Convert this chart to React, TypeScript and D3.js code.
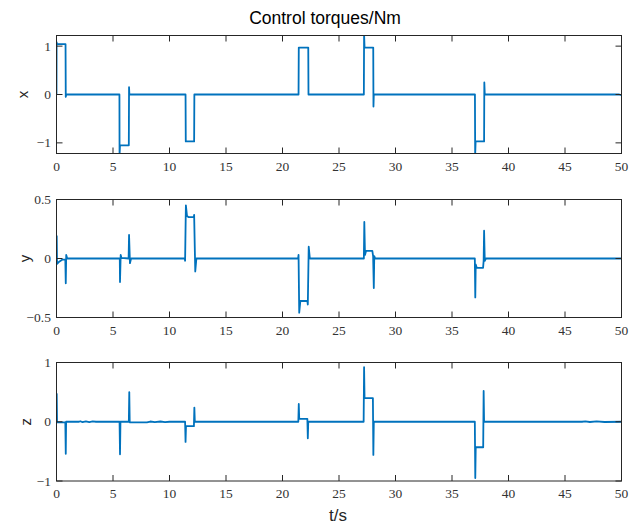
import React from 'react';
import * as d3 from 'd3';

// x-axis torque, breakpoints
const xTime = [0, 0.01, 0.05, 0.8, 0.82, 0.86, 5.57, 5.58, 5.62, 6.4, 6.42, 6.45, 11.42, 11.44, 12.18, 12.2, 21.42, 21.44, 22.28, 22.3, 27.2, 27.22, 27.26, 28.03, 28.05, 28.08, 37.03, 37.05, 37.09, 37.84, 37.86, 37.9, 49.8, 49.9, 50];
const xTorque = [0, 1.08, 1.04, 1.04, -0.05, 0, 0, -1.25, -1.05, -1.05, 0.15, 0, 0, -0.97, -0.97, 0, 0, 0.97, 0.97, 0, 0, 1.25, 0.97, 0.97, -0.25, 0, 0, -1.25, -0.97, -0.97, 0.25, 0, 0, -0.01, 0];

const yTime = [0, 0.02, 0.05, 0.2, 0.5, 0.78, 0.82, 0.86, 0.95, 5.6, 5.62, 5.68, 5.75, 6.38, 6.42, 6.5, 6.6, 11.35, 11.38, 11.45, 11.55, 11.7, 12.15, 12.18, 12.28, 12.38, 21.38, 21.42, 21.48, 21.58, 22.2, 22.24, 22.32, 22.42, 27.2, 27.24, 27.3, 27.4, 27.95, 28.02, 28.08, 28.12, 28.2, 37.02, 37.06, 37.1, 37.2, 37.75, 37.8, 37.84, 37.9, 38.0, 50];
const yTorque = [0, 0.19, -0.045, -0.03, -0.01, -0.01, -0.21, 0.03, 0, 0, -0.2, 0.03, 0.005, 0, 0.2, -0.04, 0, 0, -0.02, 0.45, 0.36, 0.35, 0.35, 0.37, -0.11, 0, 0, 0.03, -0.46, -0.36, -0.36, -0.39, 0.1, 0, 0, 0.31, 0.03, 0.065, 0.065, 0.02, -0.25, 0.02, 0, 0, -0.33, -0.05, -0.08, -0.08, -0.02, 0.235, -0.02, 0, 0];

const zTime = [0, 0.02, 0.05, 0.78, 0.82, 0.85, 2, 2.1, 2.3, 2.6, 2.9, 3.2, 3.5, 5.58, 5.62, 5.66, 6.4, 6.44, 6.48, 8, 8.3, 8.7, 9.2, 9.6, 10, 11.38, 11.42, 11.46, 12.16, 12.2, 12.24, 21.4, 21.44, 21.48, 22.2, 22.24, 22.28, 27.18, 27.22, 27.26, 28.0, 28.04, 28.08, 37.02, 37.06, 37.1, 37.76, 37.8, 37.84, 46.5, 46.8, 47.2, 47.8, 48.5, 50];
const zTorque = [0, 0.47, -0.01, -0.01, -0.54, 0, 0, 0.008, -0.006, 0.008, -0.006, 0.007, 0, 0, -0.55, 0, 0, 0.5, -0.01, -0.01, 0.004, -0.008, 0.004, -0.008, 0, 0, -0.34, -0.075, -0.075, 0.24, 0, 0, 0.3, 0.05, 0.05, -0.28, 0, 0, 0.92, 0.4, 0.4, -0.56, 0, 0, -0.95, -0.43, -0.43, 0.52, 0, 0, 0.006, -0.004, 0.006, -0.004, 0];

const timeTicks = [0, 5, 10, 15, 20, 25, 30, 35, 40, 45, 50];

const panels = [
  { label: 'x', time: xTime, values: xTorque, domain: [-1.22, 1.22], ticks: [-1, 0, 1], top: 35.5, bottom: 153.5, lx: 23 },
  { label: 'y', time: yTime, values: yTorque, domain: [-0.5, 0.5], ticks: [-0.5, 0, 0.5], top: 199.5, bottom: 317.5, lx: 25 },
  { label: 'z', time: zTime, values: zTorque, domain: [-1, 1], ticks: [-1, 0, 1], top: 362.5, bottom: 481, lx: 26 },
];

const W = 630;
const H = 524;
const left = 56.5;
const right = 621.5;
const axisColor = '#262626';
const lineColor = '#0072BD';
const serif = '"Liberation Serif", "DejaVu Serif", serif';
const sans = '"Liberation Sans", Arial, sans-serif';

const fmt = (v: number) => (v < 0 ? '\u2212' + String(-v) : String(v));

function Panel({ p, i }: { p: typeof panels[number]; i: number }) {
  const x = d3.scaleLinear().domain([0, 50]).range([left, right]);
  const y = d3.scaleLinear().domain(p.domain).range([p.bottom, p.top]);
  const pts: [number, number][] = p.time.map((t, k) => [t, p.values[k]]);
  const line = d3.line<[number, number]>().x(d => x(d[0])).y(d => y(d[1]));
  const tl = 6;
  const clipId = 'clip' + i;
  return (
    <g>
      <defs>
        <clipPath id={clipId}>
          <rect x={left} y={p.top} width={right - left} height={p.bottom - p.top} />
        </clipPath>
      </defs>
      <path d={line(pts) || ''} fill="none" stroke={lineColor} strokeWidth={1.8} strokeLinejoin="round" clipPath={`url(#${clipId})`} />
      <rect x={left} y={p.top} width={right - left} height={p.bottom - p.top} fill="none" stroke={axisColor} strokeWidth={1} />
      {timeTicks.map(t => (
        <g key={'t' + t}>
          <line x1={x(t)} x2={x(t)} y1={p.bottom} y2={p.bottom - tl} stroke={axisColor} />
          <line x1={x(t)} x2={x(t)} y1={p.top} y2={p.top + tl} stroke={axisColor} />
          <text x={x(t)} y={p.bottom + 17} textAnchor="middle" fontFamily={serif} fontSize={13.5} fill="#333">{t}</text>
        </g>
      ))}
      {p.ticks.map(v => (
        <g key={'v' + v}>
          <line x1={left} x2={left + tl} y1={y(v)} y2={y(v)} stroke={axisColor} />
          <line x1={right} x2={right - tl} y1={y(v)} y2={y(v)} stroke={axisColor} />
          <text x={51} y={y(v) + 4.5} textAnchor="end" fontFamily={serif} fontSize={13.5} fill="#333">{fmt(v)}</text>
        </g>
      ))}
      <text transform={`translate(${p.lx}, ${(p.top + p.bottom) / 2}) rotate(-90)`} textAnchor="middle" dy="0.35em" fontFamily={sans} fontSize={15} fill={axisColor}>{p.label}</text>
    </g>
  );
}

export default function App() {
  return (
    <svg width={W} height={H} style={{ position: 'absolute', left: 0, top: 0, background: '#fff' }}>
      <text x={325} y={24} textAnchor="middle" fontFamily={sans} fontSize={17.5} fill="#000">Control torques/Nm</text>
      {panels.map((p, i) => <Panel key={p.label} p={p} i={i} />)}
      <text x={338} y={521} textAnchor="middle" fontFamily={sans} fontSize={17} fill={axisColor}>t/s</text>
    </svg>
  );
}
